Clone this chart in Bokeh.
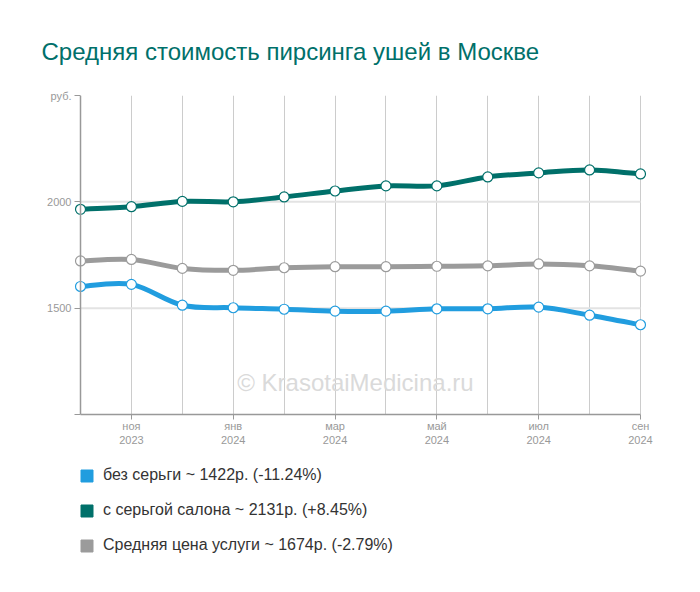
from bokeh.plotting import figure
from bokeh.models import Range1d, FixedTicker, Legend, LegendItem, Label, Span
from bokeh.layouts import column
from bokeh.embed import file_html
from bokeh.resources import INLINE

# ---- data ----
months = ["окт\n2023", "ноя\n2023", "дек\n2023", "янв\n2024", "фев\n2024", "мар\n2024",
          "апр\n2024", "май\n2024", "июн\n2024", "июл\n2024", "авг\n2024", "сен\n2024"]
no_earring = [1602, 1612, 1514, 1502, 1495, 1486, 1486, 1497, 1497, 1505, 1467, 1422]
with_earring = [1965, 1977, 2002, 2000, 2023, 2051, 2075, 2075, 2117, 2136, 2150, 2131]
average = [1722, 1729, 1687, 1678, 1690, 1695, 1695, 1697, 1699, 1708, 1699, 1674]
y_ticks = [1000, 1500, 2000, 2500]
grid_values = [1500, 2000]
legend_labels = ["без серьги ~ 1422р. (-11.24%)",
                 "с серьгой салона ~ 2131р. (+8.45%)",
                 "Средняя цена услуги ~ 1674р. (-2.79%)"]

BLUE = "#219ddf"
TEAL = "#00706a"
GRAY = "#9b9b9b"
AXIS = "#999999"
FONT = "Liberation Sans"

xs = list(range(len(months)))
last = len(months) - 1
pad = 0.118

p = figure(width=692, height=455, output_backend="svg", toolbar_location=None,
           x_range=Range1d(-pad, last + pad), y_range=Range1d(1000, 2500),
           min_border_left=74, min_border_right=46, min_border_top=95, min_border_bottom=41)
p.outline_line_color = None
p.background_fill_color = "white"
p.border_fill_color = "white"

p.title.text = "Средняя стоимость пирсинга ушей в Москве"
p.title.text_font = FONT
p.title.text_font_size = "24px"
p.title.text_font_style = "normal"
p.title.text_color = TEAL
p.title.offset = -33
p.title.standoff = 61

# axes
xa = p.xaxis[0]
xa.ticker = FixedTicker(ticks=[i for i in xs if i % 2 == 1])
xa.major_label_overrides = {i: months[i] for i in xs}
xa.major_label_text_font = FONT
xa.major_label_text_font_size = "11px"
xa.major_label_text_color = AXIS
xa.axis_line_color = AXIS
xa.axis_line_width = 1.5
xa.major_tick_line_color = AXIS
xa.major_tick_out = 5
xa.major_tick_in = 0
xa.minor_tick_line_color = None
xa.major_label_standoff = 0
xa.bounds = (0, last)

ya = p.yaxis[0]
ya.ticker = FixedTicker(ticks=y_ticks)
ya.major_label_overrides = {1000: "", 2500: "руб."}
ya.major_label_text_font = FONT
ya.major_label_text_font_size = "11px"
ya.major_label_text_color = AXIS
ya.axis_line_color = None
ya.major_tick_line_color = AXIS
ya.major_tick_out = 0
ya.major_tick_in = 6
ya.minor_tick_line_color = None
ya.major_label_standoff = 3
p.add_layout(Span(location=0, dimension="height", line_color=AXIS, line_width=1.5))

p.xgrid.ticker = FixedTicker(ticks=xs[1:])
p.xgrid.grid_line_color = "#cccccc"
p.ygrid.grid_line_color = None
p.segment(x0=[0] * len(grid_values), x1=[last] * len(grid_values), y0=grid_values,
          y1=grid_values, line_color="#e3e3e3", line_width=2)

# watermark
p.add_layout(Label(x=5.4, y=1150, text="© KrasotaiMedicina.ru", text_font=FONT,
                   text_font_size="24px", text_color="#dadada", text_align="center",
                   text_baseline="middle"))


def smooth(ys):
    n = len(ys)
    x0, y0, x1, y1, cx0, cy0, cx1, cy1 = [], [], [], [], [], [], [], []
    for i in range(n - 1):
        a = max(i - 1, 0)
        b = min(i + 2, n - 1)
        x0.append(xs[i]); y0.append(ys[i])
        x1.append(xs[i + 1]); y1.append(ys[i + 1])
        cx0.append(xs[i] + (xs[i + 1] - xs[a]) / 6)
        cy0.append(ys[i] + (ys[i + 1] - ys[a]) / 6)
        cx1.append(xs[i + 1] - (xs[b] - xs[i]) / 6)
        cy1.append(ys[i + 1] - (ys[b] - ys[i]) / 6)
    return dict(x0=x0, y0=y0, x1=x1, y1=y1, cx0=cx0, cy0=cy0, cx1=cx1, cy1=cy1)


# legend figure
q = figure(width=692, height=129, output_backend="svg", toolbar_location=None,
           x_range=Range1d(0, 1), y_range=Range1d(0, 1),
           min_border_left=74, min_border_right=0, min_border_top=6, min_border_bottom=0)
q.axis.visible = False
q.grid.visible = False
q.outline_line_color = None
q.border_fill_color = "white"

items = []
for ys, col, lab in [(no_earring, BLUE, legend_labels[0]),
                     (with_earring, TEAL, legend_labels[1]),
                     (average, GRAY, legend_labels[2])]:
    p.bezier(line_color=col, line_width=5, line_cap="round", **smooth(ys))
    p.scatter(xs, ys, size=10, fill_color="white", line_color=col, line_width=1.2)
    dummy = q.quad(left=[float("nan")], right=[float("nan")], top=[float("nan")],
                   bottom=[float("nan")], fill_color=col, line_color=col)
    items.append(LegendItem(label=lab, renderers=[dummy]))

legend = Legend(items=items, location="top_left", orientation="vertical",
                glyph_width=15, glyph_height=15, label_height=16, spacing=17,
                label_standoff=9, padding=0, margin=5,
                label_text_font=FONT, label_text_font_size="16px", label_text_color="#333333",
                border_line_color=None, background_fill_alpha=0)
q.add_layout(legend)

open("out.html", "w").write(file_html(column(p, q, spacing=0), INLINE))
